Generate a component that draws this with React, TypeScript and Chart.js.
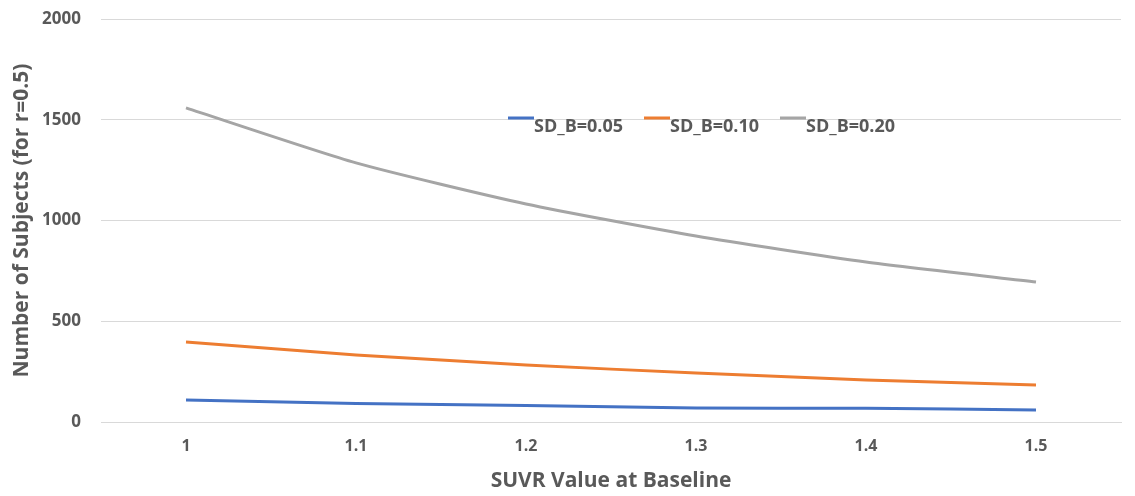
import React, { useEffect, useRef } from "react";
import { Chart, registerables } from "chart.js";

Chart.register(...registerables);

const categories = ["1", "1.1", "1.2", "1.3", "1.4", "1.5"];
const sdB005 = [109, 92, 82, 69, 68, 60];
const sdB010 = [397, 333, 283, 243, 209, 184];
const sdB020 = [1559, 1286, 1082, 923, 794, 695];
const yTicks = [0, 500, 1000, 1500, 2000];
const seriesNames = ["SD_B=0.05", "SD_B=0.10", "SD_B=0.20"];
const colors = ["#4472C4", "#ED7D31", "#A5A5A5"];

const FONT = "'Open Sans', 'Noto Sans', sans-serif";
const TEXT = "#595959";

const legendPlugin = {
  id: "inAreaLegend",
  afterDraw(chart: any) {
    const ctx = chart.ctx;
    const startX = 508;
    const stride = 136;
    const lineY = 118;
    ctx.save();
    ctx.font = `bold 18px ${FONT}`;
    ctx.fillStyle = TEXT;
    ctx.textBaseline = "middle";
    ctx.textAlign = "left";
    chart.data.datasets.forEach((ds: any, i: number) => {
      const x = startX + i * stride;
      ctx.strokeStyle = ds.borderColor;
      ctx.lineWidth = 3;
      ctx.beginPath();
      ctx.moveTo(x, lineY);
      ctx.lineTo(x + 26, lineY);
      ctx.stroke();
      ctx.fillText(ds.label, x + 26, lineY + 9);
    });
    ctx.restore();
  },
};

export default function App() {
  const ref = useRef<HTMLCanvasElement>(null);
  useEffect(() => {
    if (!ref.current) return;
    const chart = new Chart(ref.current, {
      type: "line",
      data: {
        labels: categories,
        datasets: [sdB005, sdB010, sdB020].map((d, i) => ({
          label: seriesNames[i],
          data: d,
          borderColor: colors[i],
          backgroundColor: colors[i],
          borderWidth: 3,
          pointRadius: 0,
          tension: 0.2,
          fill: false,
        })),
      },
      options: {
        responsive: false,
        animation: false,
        layout: { padding: { left: 0, right: 14, top: 0, bottom: 0 } },
        plugins: {
          legend: { display: false },
          tooltip: { enabled: false },
        },
        scales: {
          x: {
            offset: true,
            grid: { display: false },
            border: { color: "#D9D9D9", width: 1 },
            ticks: {
              color: TEXT,
              font: { family: FONT, size: 16, weight: "bold" as any },
              padding: 7,
              maxRotation: 0,
            },
            title: {
              display: true,
              text: "SUVR Value at Baseline",
              color: TEXT,
              font: { family: FONT, size: 21, weight: "bold" as any },
              padding: { top: 8, bottom: 2 },
            },
            afterFit(scale: any) {
              scale.height = 74;
            },
          },
          y: {
            min: 0,
            max: 2000,
            afterBuildTicks(scale: any) {
              scale.ticks = yTicks.map((v) => ({ value: v }));
            },
            grid: { color: "#D9D9D9", drawTicks: false },
            border: { display: false },
            ticks: {
              color: TEXT,
              font: { family: FONT, size: 17, weight: "bold" as any },
              padding: 20,
              callback: (v: any) => String(v),
            },
            title: {
              display: true,
              text: "Number of Subjects (for r=0.5)",
              color: TEXT,
              font: { family: FONT, size: 21, weight: "bold" as any },
              padding: { top: 9, bottom: 4 },
            },
            afterFit(scale: any) {
              scale.width = 101;
              scale.paddingTop = 19;
              scale.paddingBottom = 0;
            },
          },
        },
      },
      plugins: [legendPlugin],
    });
    return () => chart.destroy();
  }, []);
  return (
    <div style={{ position: "fixed", left: 0, top: 0, width: 1135, height: 496, background: "#fff" }}>
      <canvas ref={ref} width={1135} height={496} style={{ width: 1135, height: 496 }} />
    </div>
  );
}
